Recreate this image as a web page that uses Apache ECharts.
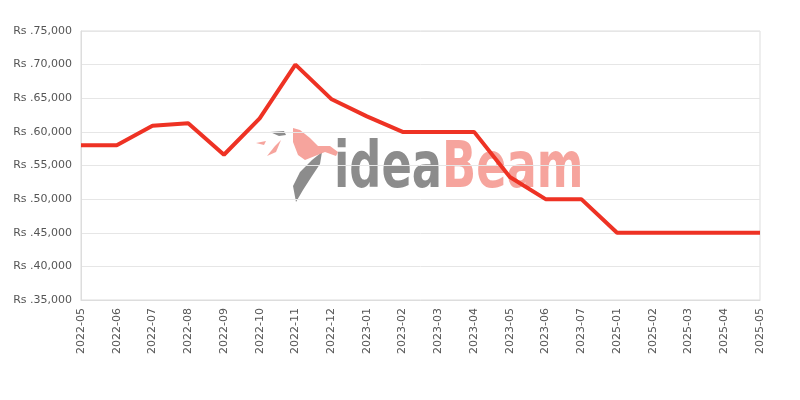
<!DOCTYPE html>
<html>
<head>
<meta charset="utf-8">
<script src="https://cdn.jsdelivr.net/npm/echarts@6/dist/echarts.min.js"></script>
<style>html,body{margin:0;padding:0;background:#fff}#c{width:800px;height:400px}</style>
</head>
<body>
<div id="c"></div>
<script>
const categories = ['2022-05','2022-06','2022-07','2022-08','2022-09','2022-10','2022-11','2022-12','2023-01','2023-02','2023-03','2023-04','2023-05','2023-06','2023-07','2025-01','2025-02','2025-03','2025-04','2025-05'];
const prices = [58000,58000,60900,61300,56600,62000,70000,64900,62300,60000,60000,60000,53300,50000,50000,45000,45000,45000,45000,45000];
const yMin = 35000, yMax = 75000, yStep = 5000;

const chart = echarts.init(document.getElementById('c'), null, {renderer:'canvas'});
const wmFont = 'bold 64px "DejaVu Sans", sans-serif';
chart.setOption({
  animation: false,
  grid: {left: 81, right: 40, top: 31, bottom: 100, show: true, borderColor: '#dddddd', borderWidth: 1, backgroundColor: 'transparent'},
  graphic: [
    {type:'group', z: -100, silent: true, children: [
      {type:'text', x: 334, y: 138, scaleX: 0.70, silent: true,
        style:{text:'{a|idea}{b|Beam}', font: wmFont, opacity: 0.9,
          rich:{a:{fill:'#808080', font: wmFont}, b:{fill:'#f59a92', font: wmFont}}}},
      {type:'polygon', silent: true, shape:{points:[[322,152],[312,160],[300,172],[293,186],[296,202],[303,190],[312,176],[320,164]]}, style:{fill:'#808080', opacity: 0.9}},
      {type:'polygon', silent: true, shape:{points:[[293,128],[300,130],[310,138],[318,146],[330,146],[338,152],[336,156],[325,152],[315,156],[305,160],[298,155],[293,142]]}, style:{fill:'#f59a92', opacity: 0.9}},
      {type:'polygon', silent: true, shape:{points:[[267,156],[275,146],[281,140],[276,152]]}, style:{fill:'#f59a92', opacity: 0.9}},
      {type:'polygon', silent: true, shape:{points:[[256,143],[266,141],[264,145]]}, style:{fill:'#f59a92', opacity: 0.9}},
      {type:'polygon', silent: true, shape:{points:[[270,132],[284,131],[286,135],[279,136]]}, style:{fill:'#808080', opacity: 0.9}}
    ]}
  ],
  xAxis: {
    type: 'category', data: categories, boundaryGap: false,
    axisLine: {show: true, lineStyle: {color: '#dddddd'}},
    axisTick: {show: false},
    axisLabel: {rotate: 90, color: '#555555', fontSize: 11, fontFamily: 'DejaVu Sans', margin: 8, interval: 0},
    splitLine: {show: false}
  },
  yAxis: {
    type: 'value', min: yMin, max: yMax, interval: yStep,
    axisLine: {show: true, lineStyle: {color: '#dddddd'}},
    axisTick: {show: false},
    axisLabel: {color: '#555555', fontSize: 11, fontFamily: 'DejaVu Sans', margin: 9,
      formatter: v => 'Rs .' + v.toLocaleString('en-US')},
    splitLine: {show: true, lineStyle: {color: '#e6e6e6'}}
  },
  series: [{
    type: 'line', data: prices, showSymbol: false, z: 10,
    lineStyle: {color: '#ee3224', width: 4},
    itemStyle: {color: '#ee3224'}
  }]
});
</script>
</body>
</html>
